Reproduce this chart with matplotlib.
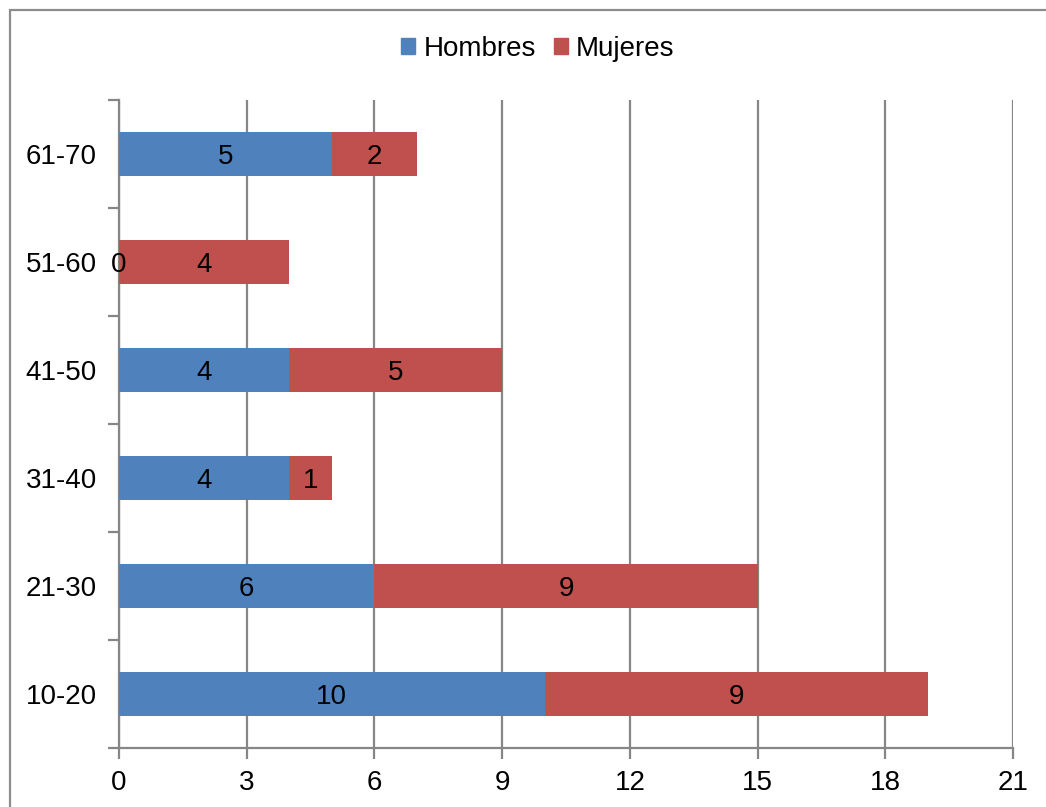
import matplotlib.pyplot as plt
import matplotlib.patches as mpatches
import numpy as np

plt.rcParams["font.family"] = ["Liberation Sans", "DejaVu Sans"]

# ── Data ──────────────────────────────────────────────────────────────────────
grupos   = ["10-20", "21-30", "31-40", "41-50", "51-60", "61-70"]
hombres  = [10, 6, 4, 4, 0, 5]
mujeres  = [9, 9, 1, 5, 4, 2]
x_ticks  = [0, 3, 6, 9, 12, 15, 18, 21]

BLUE = "#4F81BD"
RED  = "#C0504D"
GRID = "#868686"
FS   = 20

W, H = 1046, 807
fig = plt.figure(figsize=(W / 100, H / 100), dpi=100)
fig.patch.set_facecolor("white")

# chart-area border (runs off the right and bottom edges)
fig.add_artist(mpatches.Rectangle((10 / W, -0.1), 1.2, 1.1 - 10 / H,
                                  transform=fig.transFigure, fill=False,
                                  ec="#8C8C8C", lw=1.6))

ax = fig.add_axes([119 / W, 1 - 748 / H, (1013 - 119) / W, (748 - 100) / H])

y = np.arange(len(grupos))
h = 0.4
ax.barh(y, hombres, height=h, color=BLUE, zorder=3)
ax.barh(y, mujeres, height=h, left=hombres, color=RED, zorder=3)

for yi, hv, mv in zip(y, hombres, mujeres):
    ax.text(hv / 2, yi, str(hv), ha="center", va="center_baseline", fontsize=FS, zorder=4)
    ax.text(hv + mv / 2, yi, str(mv), ha="center", va="center_baseline", fontsize=FS, zorder=4)

ax.set_xlim(0, 21)
ax.set_ylim(-0.5, len(grupos) - 0.5)
ax.set_xticks(x_ticks)
ax.set_xticklabels([str(t) for t in x_ticks], fontsize=FS)
ax.set_yticks(y)
ax.set_yticklabels(grupos, fontsize=FS)
ax.set_yticks(np.arange(-0.5, len(grupos)), minor=True)

ax.xaxis.grid(True, color=GRID, lw=1.6, zorder=0)
ax.tick_params(axis="x", direction="out", length=8, width=1.6, color=GRID, pad=8)
ax.tick_params(axis="y", which="major", length=0, pad=16)
ax.tick_params(axis="y", which="minor", direction="out", length=8, width=1.6, color=GRID)

for s in ["top", "right"]:
    ax.spines[s].set_visible(False)
for s in ["left", "bottom"]:
    ax.spines[s].set_color(GRID)
    ax.spines[s].set_linewidth(1.6)

handles = [mpatches.Patch(color=BLUE, label="Hombres"),
           mpatches.Patch(color=RED, label="Mujeres")]
fig.legend(handles=handles, loc="center", bbox_to_anchor=(538 / W, 1 - 49 / H),
           ncol=2, frameon=False, fontsize=FS, handlelength=0.5, handleheight=0.5,
           handletextpad=0.3, columnspacing=0.65)

fig.savefig("out.png", dpi=100, facecolor="white")
